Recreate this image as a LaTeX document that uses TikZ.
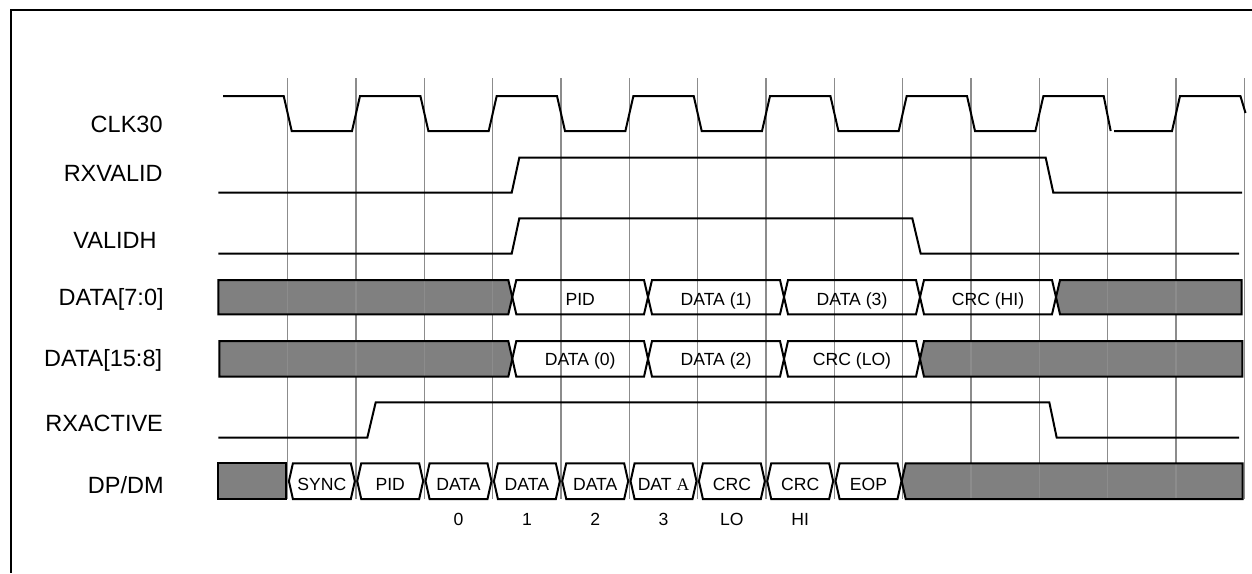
\documentclass[tikz,border=0pt]{standalone}
\usepackage{fontspec}
\setmainfont{Liberation Sans}
\newfontfamily\serifA{Liberation Serif}
\newcommand\hexbox[5][]{\path[busline,#1] (#2,{(#4+#5)/2}) -- ({#2+4},#4) -- ({#3-4},#4) -- (#3,{(#4+#5)/2}) -- ({#3-4},#5) -- ({#2+4},#5) -- cycle;}
\begin{document}
\begin{tikzpicture}[x=0.5pt,y=-0.5pt,
  sig/.style={draw,line width=1pt,line join=miter,line cap=butt},
  gridl/.style={line width=0.75pt,color=black!45},
  busline/.style={line width=1pt,line join=miter},
  lab/.style={anchor=base east,inner sep=0pt,font=\fontsize{11.75}{14}\selectfont},
  btxt/.style={anchor=base,inner sep=0pt,font=\fontsize{8.8}{10}\selectfont}]
\useasboundingbox (0,0) rectangle (1252,573);
% frame
\draw[line width=1pt] (1252,10) -- (11,10) -- (11,573);

% ---- gray fills
\fill[black!50] (218.3,280) -- (508.3,280) -- (512.3,297.15) -- (508.3,314.3) -- (218.3,314.3) -- cycle;
\fill[black!50] (1056,297.15) -- (1060,280) -- (1241.7,280) -- (1241.7,314.3) -- (1060,314.3) -- cycle;
\fill[black!50] (219.3,341) -- (508.3,341) -- (512.3,358.85) -- (508.3,376.7) -- (219.3,376.7) -- cycle;
\fill[black!50] (920,358.85) -- (924,341) -- (1242.3,341) -- (1242.3,376.7) -- (924,376.7) -- cycle;
\fill[black!50] (218,463.3) -- (286,463.3) -- (286,499) -- (218,499) -- cycle;
\fill[black!50] (901.7,481.15) -- (905.7,463.3) -- (1242.7,463.3) -- (1242.7,499) -- (905.7,499) -- cycle;

% ---- grid
\foreach \k in {0,...,14}
  \draw[gridl] ({287.7+68.333*\k},78) -- ({287.7+68.333*\k},499);

% ---- outlines of gray boxes
\draw[busline] (218.3,280) -- (508.3,280) -- (512.3,297.15) -- (508.3,314.3) -- (218.3,314.3) -- cycle;
\draw[busline] (1056,297.15) -- (1060,280) -- (1241.7,280) -- (1241.7,314.3) -- (1060,314.3) -- cycle;
\draw[busline] (219.3,341) -- (508.3,341) -- (512.3,358.85) -- (508.3,376.7) -- (219.3,376.7) -- cycle;
\draw[busline] (920,358.85) -- (924,341) -- (1242.3,341) -- (1242.3,376.7) -- (924,376.7) -- cycle;
\draw[busline] (218,463.3) -- (286,463.3) -- (286,499) -- (218,499) -- cycle;
\draw[busline] (901.7,481.15) -- (905.7,463.3) -- (1242.7,463.3) -- (1242.7,499) -- (905.7,499) -- cycle;

% ---- data boxes
\hexbox[draw]{512.3}{648}{280}{314.3}
\hexbox[draw]{648}{784}{280}{314.3}
\hexbox[draw]{784}{920}{280}{314.3}
\hexbox[draw]{920}{1056}{280}{314.3}
\hexbox[draw]{512.3}{648}{341}{376.7}
\hexbox[draw]{648}{784}{341}{376.7}
\hexbox[draw]{784}{920}{341}{376.7}
\foreach \k in {0,...,8}{
  \pgfmathsetmacro\xa{287.7+68.333*\k+1.2}
  \pgfmathsetmacro\xb{287.7+68.333*(\k+1)-1.2}
  \hexbox[draw]{\xa}{\xb}{463.3}{499}
}

% ---- CLK30
\draw[sig] (223,96) -- (283.7,96) -- (291.7,131) -- (352,131) -- (360,96)
  -- (420.4,96) -- (428.4,131) -- (488.7,131) -- (496.7,96)
  -- (557,96) -- (565,131) -- (625.4,131) -- (633.4,96)
  -- (693.7,96) -- (701.7,131) -- (762,131) -- (770,96)
  -- (830.4,96) -- (838.4,131) -- (898.7,131) -- (906.7,96)
  -- (967,96) -- (975,131) -- (1035.4,131) -- (1043.4,96)
  -- (1103.7,96) -- (1110.7,131);
\draw[sig] (1114,131) -- (1172,131) -- (1180,96) -- (1240.4,96) -- (1245.5,113);
% ---- RXVALID
\draw[sig] (218.3,192.7) -- (511.7,192.7) -- (519.3,157.7) -- (1045.7,157.7) -- (1053.3,192.7) -- (1242,192.7);
% ---- VALIDH
\draw[sig] (218.3,253.7) -- (511.7,253.7) -- (519.3,218.3) -- (912.3,218.3) -- (920.7,253.7) -- (1239,253.7);
% ---- RXACTIVE
\draw[sig] (218.3,437.7) -- (367.3,437.7) -- (375.7,402.3) -- (1049.3,402.3) -- (1056.7,437.7) -- (1239,437.7);

% ---- signal names
\node[lab] (nclk)  at (163,132.4) {CLK30};
\node[lab] (nrxv)  at (163,181.1) {RXVALID};
\node[lab] (nvh)   at (157,248.4) {VALIDH};
\node[lab] (nd70)  at (164,305.3) {DATA[7:0]};
\node[lab] (nd158) at (162.5,366.3) {DATA[15:8]};
\node[lab] (nrxa)  at (163.3,431.7) {RXACTIVE};
\node[lab] (ndp)   at (164,493.5) {DP/DM};

% ---- bus texts
\node[btxt] (t1) at (580.2,305.3) {PID};
\node[btxt] (t2) at (716,305.3) {DATA (1)};
\node[btxt] (t3) at (852,305.3) {DATA (3)};
\node[btxt] (t4) at (988,305.3) {CRC (HI)};
\node[btxt] (u1) at (580.2,365.7) {DATA (0)};
\node[btxt] (u2) at (716,365.7) {DATA (2)};
\node[btxt] (u3) at (852,365.7) {CRC (LO)};

\node[btxt] (p0) at (321.9,490) {SYNC};
\node[btxt] (p1) at (390.2,490) {PID};
\node[btxt] (p2) at (458.5,490) {DATA};
\node[btxt] (p3) at (526.9,490) {DATA};
\node[btxt] (p4) at (595.2,490) {DATA};
\node[btxt] (p5) at (663.5,490) {DAT {\serifA A}};
\node[btxt] (p6) at (731.9,490) {CRC};
\node[btxt] (p7) at (800.2,490) {CRC};
\node[btxt] (p8) at (868.5,490) {EOP};

\node[btxt] (q0) at (458.5,525) {0};
\node[btxt] (q1) at (526.9,525) {1};
\node[btxt] (q2) at (595.2,525) {2};
\node[btxt] (q3) at (663.5,525) {3};
\node[btxt] (q4) at (731.9,525) {LO};
\node[btxt] (q5) at (800.2,525) {HI};
\end{tikzpicture}
\end{document}
